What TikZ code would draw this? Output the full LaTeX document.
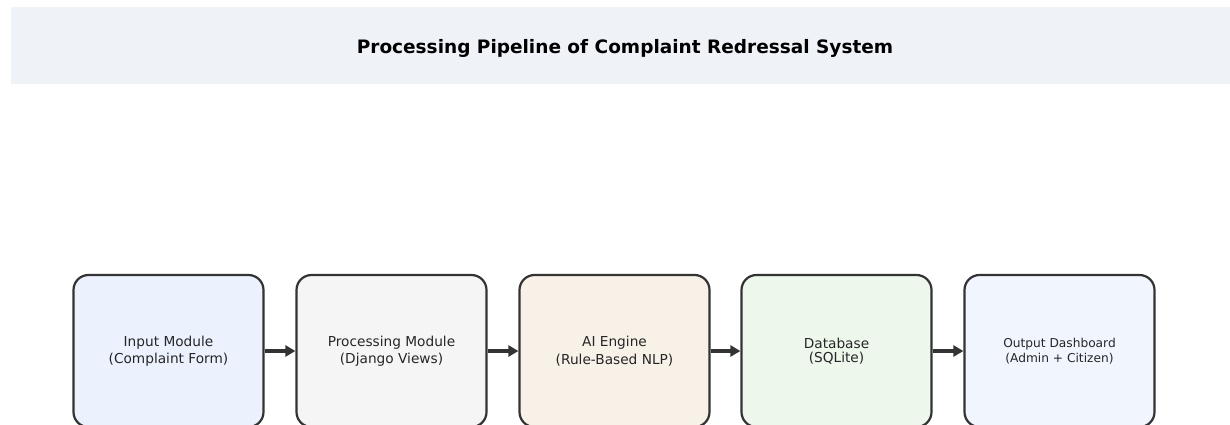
\documentclass[tikz,border=0pt]{standalone}
\usepackage{fontspec}
\setmainfont{DejaVu Sans}
\usetikzlibrary{arrows.meta}
\definecolor{bandbg}{HTML}{EFF2F7}
\definecolor{edge}{HTML}{333333}
\definecolor{fillA}{HTML}{EBF2FE}
\definecolor{fillB}{HTML}{F5F5F5}
\definecolor{fillC}{HTML}{F8F1E8}
\definecolor{fillD}{HTML}{EDF7EC}
\definecolor{fillE}{HTML}{F0F5FE}
\tikzset{
  stage/.style={draw=edge, line width=2.2pt, rounded corners=15pt,
    minimum width=190pt, minimum height=152pt, align=center,
    font=\fontsize{13.7}{17.5}\selectfont, text=black!85},
  flow/.style={draw=edge, line width=3.5pt,
    -{Triangle[length=10pt,width=11pt]}, shorten >=0pt}
}
\begin{document}
\begin{tikzpicture}[x=1pt,y=-1pt]
  \useasboundingbox (0,0) rectangle (1230,425);
  \clip (0,0) rectangle (1230,425);
  % title band
  \fill[bandbg] (11,7) rectangle (1230,84);
  \node[font=\bfseries\fontsize{18.5}{22}\selectfont] (title) at (625,48)
    {Processing Pipeline of Complaint Redressal System};
  % pipeline stages
  \node[stage, fill=fillA] (input) at (168.5,351) {Input Module\\(Complaint Form)};
  \node[stage, fill=fillB] (proc)  at (391.5,351) {Processing Module\\(Django Views)};
  \node[stage, fill=fillC] (ai)    at (614.5,351) {AI Engine\\(Rule-Based NLP)};
  \node[stage, fill=fillD, font=\fontsize{13.7}{14}\selectfont] (db) at (836.5,351) {Database\\(SQLite)};
  \node[stage, fill=fillE, font=\fontsize{12.2}{15}\selectfont] (out) at (1059.5,351) {Output Dashboard\\(Admin + Citizen)};
  % connectors
  \draw[flow] (input.east) -- (proc.west);
  \draw[flow] (proc.east) -- (ai.west);
  \draw[flow] (ai.east) -- (db.west);
  \draw[flow] (db.east) -- (out.west);
\end{tikzpicture}
\end{document}
